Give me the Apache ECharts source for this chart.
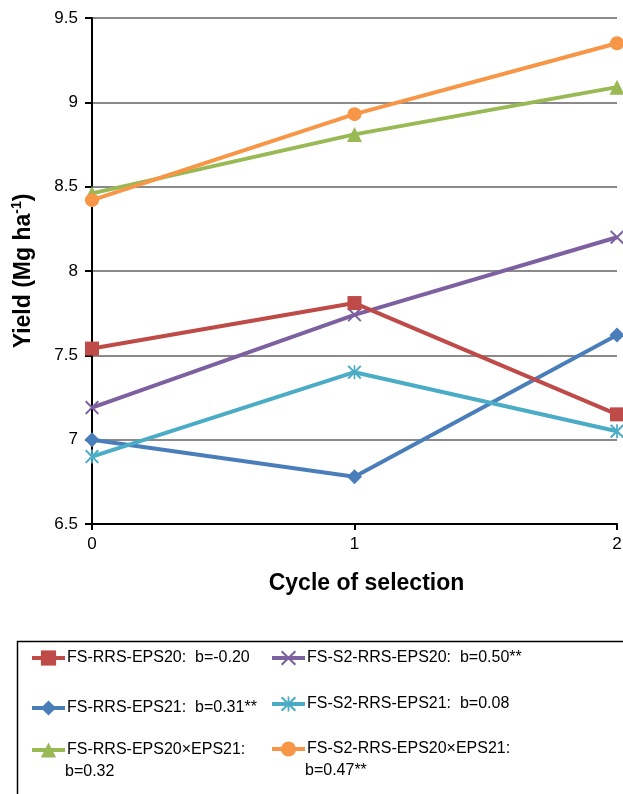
<!DOCTYPE html>
<html>
<head>
<meta charset="utf-8">
<script src="https://cdn.jsdelivr.net/npm/echarts@6/dist/echarts.min.js"></script>
<style>html,body{margin:0;padding:0;background:#fff;}#c{width:623px;height:794px;}</style>
</head>
<body>
<div id="c"></div>
<script>
var categories = ['0', '1', '2'];
var yTicks = [6.5, 7, 7.5, 8, 8.5, 9, 9.5];
var sRed = [7.54, 7.81, 7.15];
var sPurple = [7.19, 7.74, 8.20];
var sBlue = [7.00, 6.78, 7.62];
var sCyan = [6.90, 7.40, 7.05];
var sGreen = [8.46, 8.81, 9.09];
var sOrange = [8.42, 8.93, 9.35];
var names = [
  'FS-RRS-EPS20:  b=-0.20',
  'FS-S2-RRS-EPS20:  b=0.50**',
  'FS-RRS-EPS21:  b=0.31**',
  'FS-S2-RRS-EPS21:  b=0.08',
  'FS-RRS-EPS20×EPS21:',
  'FS-S2-RRS-EPS20×EPS21:'
];
var secondLines = ['b=0.32', 'b=0.47**'];

var FONT = '"Liberation Sans", Arial, Helvetica, sans-serif';
var xPath = 'path://M0,1L1,0L10,9L9,10ZM9,0L10,1L1,10L0,9Z';
var starPath = 'path://M0,1L1,0L10,9L9,10ZM9,0L10,1L1,10L0,9ZM4.4,0L5.6,0L5.6,10L4.4,10Z';

function mk(name, data, color, symbol, size) {
  return {
    name: name, type: 'line', data: data,
    symbol: symbol, symbolSize: size, showAllSymbol: true,
    lineStyle: {color: color, width: 4},
    itemStyle: {color: color},
    z: 3
  };
}
var series = [
  mk(names[4], sGreen, '#98B954', 'triangle', 15),
  mk(names[5], sOrange, '#F79646', 'circle', 14),
  mk(names[2], sBlue, '#4A7EBB', 'diamond', 15),
  mk(names[3], sCyan, '#4BACC6', starPath, 14),
  mk(names[1], sPurple, '#7D60A0', xPath, 14),
  mk(names[0], sRed, '#BE4B48', 'rect', 14)
];

function lg(name, left, cy) {
  return {
    data: [name], left: left, top: cy - 10, padding: 0,
    itemWidth: 33, itemHeight: 19, itemGap: 0, selectedMode: false,
    lineStyle: {width: 4},
    textStyle: {fontFamily: FONT, fontSize: 16, color: '#000', padding: [0, 0, 0, -3]}
  };
}

var chart = echarts.init(document.getElementById('c'), null, {renderer: 'canvas'});
chart.setOption({
  animation: false,
  backgroundColor: '#fff',
  grid: {left: 92, right: 6, top: 18, bottom: 270, containLabel: false, outerBoundsMode: 'none'},
  xAxis: {
    type: 'category', data: categories, boundaryGap: false,
    name: 'Cycle of selection', nameLocation: 'middle', nameGap: 48,
    nameTextStyle: {fontFamily: FONT, fontSize: 23, fontWeight: 'bold', color: '#000', padding: [0, 0, 0, 24]},
    axisLine: {lineStyle: {color: '#000', width: 2}},
    axisTick: {show: true, length: 6, inside: false, lineStyle: {color: '#000', width: 2}, alignWithLabel: true},
    axisLabel: {fontFamily: FONT, fontSize: 17, color: '#000', margin: 12},
    splitLine: {show: false}
  },
  yAxis: {
    type: 'value', min: yTicks[0], max: yTicks[yTicks.length - 1], interval: 0.5,
    name: '{b|Yield (Mg ha}{s|-1}{b|)}', nameLocation: 'middle', nameGap: 54,
    nameTextStyle: {
      rich: {
        b: {fontFamily: FONT, fontSize: 23, fontWeight: 'bold', color: '#000', lineHeight: 28},
        s: {fontFamily: FONT, fontSize: 14, fontWeight: 'bold', color: '#000', verticalAlign: 'top', lineHeight: 16}
      }
    },
    axisLine: {show: true, lineStyle: {color: '#000', width: 2}},
    axisTick: {show: true, length: 7, lineStyle: {color: '#000', width: 2}},
    axisLabel: {fontFamily: FONT, fontSize: 17, color: '#000', margin: 14},
    splitLine: {show: true, lineStyle: {color: '#8a8a8a', width: 2}}
  },
  legend: [
    lg(names[0], 30, 660),
    lg(names[1], 270, 660),
    lg(names[2], 30, 710),
    lg(names[3], 270, 706),
    lg(names[4], 30, 752),
    lg(names[5], 270, 751)
  ],
  graphic: [
    {type: 'rect', left: 15, top: 639, shape: {width: 700, height: 200}, style: {fill: 'none', stroke: '#000', lineWidth: 1.5}, z: -1},
    {type: 'text', left: 65, top: 764, style: {text: secondLines[0], font: '16px ' + FONT, fill: '#000'}},
    {type: 'text', left: 305, top: 763, style: {text: secondLines[1], font: '16px ' + FONT, fill: '#000'}}
  ],
  series: series
});
</script>
</body>
</html>
